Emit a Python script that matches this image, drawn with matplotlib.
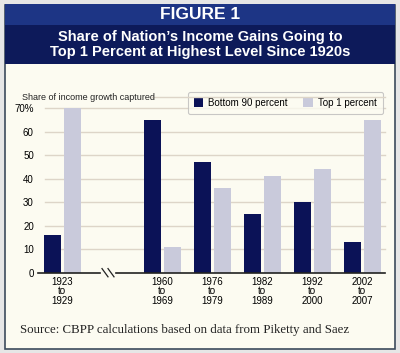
import numpy as np
import matplotlib.pyplot as plt
from matplotlib.patches import Rectangle

# --- data ---
periods = ["1923\nto\n1929", "1960\nto\n1969", "1976\nto\n1979",
           "1982\nto\n1989", "1992\nto\n2000", "2002\nto\n2007"]
bottom90 = [16, 65, 47, 25, 30, 13]
top1 = [70, 11, 36, 41, 44, 65]
yticks = [0, 10, 20, 30, 40, 50, 60, 70]
ytick_labels = ["0", "10", "20", "30", "40", "50", "60", "70%"]

# slot 1 is left empty for the axis break
xpos = np.array([0, 2, 3, 4, 5, 6])

W, H = 400, 353
navy = "#0b1257"
lilac = "#c9cadb"
cream = "#fcfbf1"
sans = "Liberation Sans"


def fx(px):
    return px / W


def fy(py):
    return 1 - py / H


fig = plt.figure(figsize=(4.0, 3.53), dpi=100)
fig.patch.set_facecolor("#e6e6e6")

# --- frame and header bands ---
fig.add_artist(Rectangle((fx(5), fy(349)), fx(390), 344 / H, transform=fig.transFigure,
                         facecolor=cream, edgecolor="#3c4b5c", linewidth=1.2, zorder=0))
fig.add_artist(Rectangle((fx(5), fy(25)), fx(390), 21 / H, transform=fig.transFigure,
                         facecolor="#1d3585", edgecolor="none", zorder=1))
fig.add_artist(Rectangle((fx(5), fy(64)), fx(390), 39 / H, transform=fig.transFigure,
                         facecolor="#0d1a5a", edgecolor="none", zorder=1))

fig.text(0.5, fy(14.5), "FIGURE 1", color="white", fontsize=12.5, fontweight="bold",
         ha="center", va="center", family=sans)
fig.text(0.5, fy(44.5), "Share of Nation\u2019s Income Gains Going to\nTop 1 Percent at Highest Level Since 1920s",
         color="white", fontsize=10.5, fontweight="bold", ha="center", va="center",
         family=sans, linespacing=1.15)

# --- chart ---
ax = fig.add_axes([fx(38), fy(272.7), fx(385 - 38), (272.7 - 108) / H])
ax.set_facecolor("none")

w = 0.34
ax.bar(xpos - 0.2, bottom90, width=w, color=navy, label="Bottom 90 percent", zorder=3)
ax.bar(xpos + 0.2, top1, width=w, color=lilac, label="Top 1 percent", zorder=3, clip_on=False)

ax.set_xlim(-0.48, 6.46)
ax.set_ylim(0, 70)
ax.set_yticks(yticks)
ax.set_yticklabels(ytick_labels, family=sans, fontsize=7)
ax.set_xticks(xpos)
ax.set_xticklabels(periods, family=sans, fontsize=7, linespacing=0.95)
ax.tick_params(length=0, pad=3)

for v in yticks[1:]:
    ax.plot([0.02, 1], [v, v], transform=ax.get_yaxis_transform(), color="#ddd5c8",
            linewidth=1, zorder=1, clip_on=False)

for s in ax.spines.values():
    s.set_visible(False)

# broken baseline
xt = ax.get_xaxis_transform()
ax.plot([-0.48, 0.76], [0, 0], transform=xt, color="#222222", linewidth=1.2, zorder=4, clip_on=False)
ax.plot([1.08, 6.46], [0, 0], transform=xt, color="#222222", linewidth=1.2, zorder=4, clip_on=False)
for dx in (0.8, 0.92):
    ax.plot([dx, dx + 0.12], [0.025, -0.025], transform=xt, color="#222222", linewidth=0.9,
            zorder=4, clip_on=False)

# y label with rule
fig.text(fx(22), fy(97), "Share of income growth captured", fontsize=6.5, family=sans,
         ha="left", va="center", color="#222222")
fig.add_artist(plt.Line2D([fx(152), fx(385)], [fy(97), fy(97)], transform=fig.transFigure,
                          color="#ddd5c8", linewidth=1))

leg = ax.legend(ncol=2, loc="upper left", bbox_to_anchor=(fx(183), fy(87)),
                bbox_transform=fig.transFigure, frameon=True, fancybox=True,
                prop={"family": sans, "size": 7},
                handlelength=1.0, handleheight=1.0, handletextpad=0.5, columnspacing=1.6,
                borderpad=0.6, edgecolor="#bbbbbb")
leg.get_frame().set_facecolor(cream)
leg.get_frame().set_linewidth(0.8)

fig.text(fx(20), fy(330), "Source: CBPP calculations based on data from Piketty and Saez",
         fontsize=9.3, family="Liberation Serif", ha="left", va="center", color="#222222")

fig.savefig("out.png", dpi=100, facecolor=fig.get_facecolor())
